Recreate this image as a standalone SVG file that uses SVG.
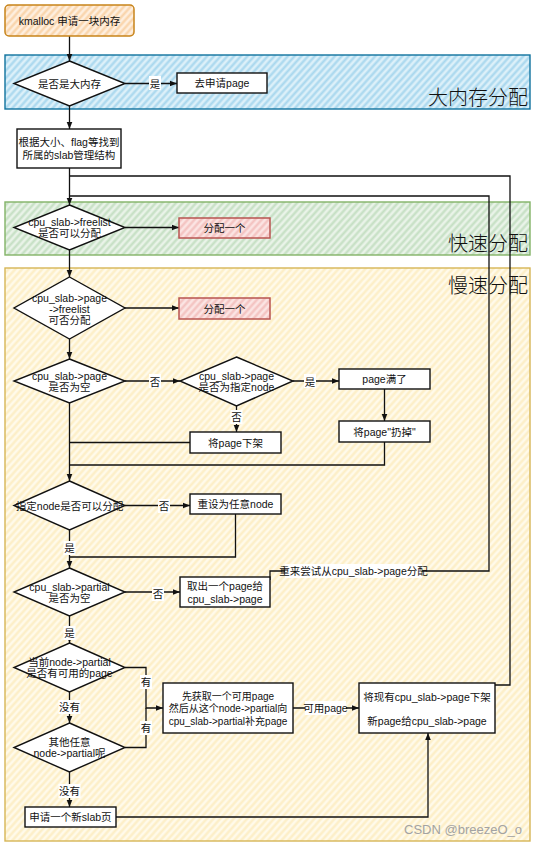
<svg xmlns="http://www.w3.org/2000/svg" width="537" height="846" viewBox="0 0 537 846">
<style>
text{font-family:"Liberation Sans","Noto Sans CJK SC",sans-serif;font-size:10.5px;fill:#111;text-anchor:middle;dominant-baseline:central}
.sm{font-size:10px}
.t{font-family:"Noto Sans CJK SC",sans-serif;font-size:20px;fill:#111;text-anchor:end;dominant-baseline:auto;font-weight:300}
.wm{font-family:"Liberation Sans",sans-serif;font-size:13px;fill:#a3a3a3;text-anchor:end;dominant-baseline:auto}
.box{fill:#fff;stroke:#111;stroke-width:1.4}
.dia{fill:#fff;stroke:#111;stroke-width:1.4}
.ln{fill:none;stroke:#111;stroke-width:1.3}
.ar{marker-end:url(#ah)}
.lb{fill:#fff}
</style>
<defs>
<marker id="ah" viewBox="0 0 10 10" refX="10" refY="5" markerWidth="7" markerHeight="7" orient="auto-start-reverse" markerUnits="userSpaceOnUse"><path d="M0,1 L10,5 L0,9 z" fill="#111"/></marker>
<pattern id="pb" width="5" height="5" patternUnits="userSpaceOnUse" patternTransform="rotate(42)"><rect width="5" height="5" fill="#dcf0f9"/><line x1="1.5" y1="0" x2="1.5" y2="5" stroke="#a8d7ee" stroke-width="2.2"/></pattern>
<pattern id="pg" width="5" height="5" patternUnits="userSpaceOnUse" patternTransform="rotate(42)"><rect width="5" height="5" fill="#e9f3e8"/><line x1="1.5" y1="0" x2="1.5" y2="5" stroke="#c5dfc3" stroke-width="2.2"/></pattern>
<pattern id="py" width="5" height="5" patternUnits="userSpaceOnUse" patternTransform="rotate(42)"><rect width="5" height="5" fill="#fffaea"/><line x1="1.5" y1="0" x2="1.5" y2="5" stroke="#fdeec4" stroke-width="2.2"/></pattern>
<pattern id="po" width="5" height="5" patternUnits="userSpaceOnUse" patternTransform="rotate(42)"><rect width="5" height="5" fill="#feefdf"/><line x1="1.5" y1="0" x2="1.5" y2="5" stroke="#f9d3a8" stroke-width="2.2"/></pattern>
<pattern id="pr" width="5" height="5" patternUnits="userSpaceOnUse" patternTransform="rotate(42)"><rect width="5" height="5" fill="#fbe4e3"/><line x1="1.5" y1="0" x2="1.5" y2="5" stroke="#f3c1bf" stroke-width="2.2"/></pattern>
</defs>

<g id="lanes">
<g id="lane-big"><rect x="5" y="55" width="525" height="54" fill="url(#pb)" stroke="#10739e" stroke-width="1.4"/><text class="t" x="528" y="105">大内存分配</text></g>
<g id="lane-fast"><rect x="5" y="202" width="525" height="53" fill="url(#pg)" stroke="#82b366" stroke-width="1.4"/><text class="t" x="528" y="251">快速分配</text></g>
<g id="lane-slow"><rect x="5" y="268" width="525" height="573" fill="url(#py)" stroke="#d6b656" stroke-width="1.4"/><text class="t" x="528" y="293">慢速分配</text></g>
</g>

<g id="connectors">
<path class="ln ar" d="M69.5,36 V61"/>
<path class="ln ar" d="M125,83.5 H177"/>
<path class="ln ar" d="M69.5,106 V129"/>
<path class="ln ar" d="M69.5,168 V205"/>
<path class="ln ar" d="M125,227.5 H179"/>
<path class="ln ar" d="M69.5,250 V277"/>
<path class="ln ar" d="M125,308 H179"/>
<path class="ln ar" d="M69.5,339 V359"/>
<path class="ln ar" d="M125,381 H180"/>
<path class="ln ar" d="M293,381 H339"/>
<path class="ln ar" d="M236.5,406 V432"/>
<path class="ln ar" d="M384.5,389 V421"/>
<path class="ln" d="M190,442.5 H69.5"/>
<path class="ln" d="M384.5,442 V465 H69.5"/>
<path class="ln ar" d="M69.5,403 V481"/>
<path class="ln ar" d="M125,505.5 H190"/>
<path class="ln" d="M235.5,514 V557 H69.5"/>
<path class="ln ar" d="M69.5,530 V568"/>
<path class="ln ar" d="M125,592 H180"/>
<path class="ln" d="M270,580 V571 H489 V196 H69.5"/>
<path class="ln ar" d="M69.5,616 V643"/>
<path class="ln ar" d="M125,667.5 H146 V708 H163"/>
<path class="ln ar" d="M69.5,692 V723"/>
<path class="ln" d="M125,747.5 H146 V708"/>
<path class="ln ar" d="M69.5,772 V807"/>
<path class="ln ar" d="M116,817 H428 V733"/>
<path class="ln ar" d="M293,708 H359"/>
<path class="ln" d="M495,685 H510 V176 H69.5"/>
<g id="edge-labels">
<rect class="lb" x="149" y="76" width="12" height="14"/><text x="155" y="83.5">是</text>
<rect class="lb" x="149" y="374" width="12" height="14"/><text x="155" y="381.5">否</text>
<rect class="lb" x="304" y="374" width="12" height="14"/><text x="310" y="381.5">是</text>
<rect class="lb" x="230.5" y="410" width="12" height="14"/><text x="236.5" y="417">否</text>
<rect class="lb" x="158" y="499" width="12" height="14"/><text x="164" y="506">否</text>
<rect class="lb" x="63.5" y="541" width="12" height="14"/><text x="69.5" y="548">是</text>
<rect class="lb" x="152" y="587" width="12" height="14"/><text x="158" y="594">否</text>
<rect class="lb" x="285" y="564" width="137" height="14"/><text x="353.5" y="571">重来尝试从cpu_slab-&gt;page分配</text>
<rect class="lb" x="63.5" y="626" width="12" height="14"/><text x="69.5" y="633">是</text>
<rect class="lb" x="140" y="675" width="12" height="14"/><text x="146" y="682">有</text>
<rect class="lb" x="58.5" y="700" width="22" height="14"/><text x="69.5" y="707">没有</text>
<rect class="lb" x="140" y="721" width="12" height="14"/><text x="146" y="728">有</text>
<rect class="lb" x="58.5" y="784" width="22" height="14"/><text x="69.5" y="791">没有</text>
<rect class="lb" x="305" y="701" width="41" height="14"/><text x="325.5" y="708">可用page</text>
</g>
</g>

<g id="n-kmalloc"><rect x="5" y="5" width="129" height="31" rx="4" fill="url(#po)" stroke="#c7841a" stroke-width="1.5"/><text x="69.5" y="20.5">kmalloc 申请一块内存</text></g>
<g id="d-big"><polygon class="dia" points="69.5,61 125,83.5 69.5,106 14,83.5"/><text x="69.5" y="83.5">是否是大内存</text></g>
<g id="n-page"><rect class="box" x="177" y="73" width="90" height="20"/><text x="222" y="83">去申请page</text></g>
<g id="n-find"><rect class="box" x="17" y="129" width="104" height="39"/><text x="69" y="142">根据大小、flag等找到</text><text x="69" y="155">所属的slab管理结构</text></g>
<g id="d-freelist"><polygon class="dia" points="69.5,205 125,227.5 69.5,250 14,227.5"/><text x="69.5" y="222">cpu_slab-&gt;freelist</text><text x="69.5" y="233">是否可以分配</text></g>
<g id="n-alloc1"><rect x="179" y="218" width="91" height="20" fill="url(#pr)" stroke="#b85450" stroke-width="1.5"/><text x="224.5" y="228">分配一个</text></g>
<g id="d-pagefree"><polygon class="dia" points="69.5,277 125,308 69.5,339 14,308"/><text x="69.5" y="298">cpu_slab-&gt;page</text><text x="69.5" y="309">-&gt;freelist</text><text x="69.5" y="320">可否分配</text></g>
<g id="n-alloc2"><rect x="179" y="298" width="91" height="21" fill="url(#pr)" stroke="#b85450" stroke-width="1.5"/><text x="224.5" y="308.5">分配一个</text></g>
<g id="d-pageempty"><polygon class="dia" points="69.5,359 125,381 69.5,403 14,381"/><text x="69.5" y="376">cpu_slab-&gt;page</text><text x="69.5" y="387">是否为空</text></g>
<g id="d-node"><polygon class="dia" points="236.5,357 293,381 236.5,406 180,381"/><text x="236.5" y="376">cpu_slab-&gt;page</text><text x="236.5" y="387">是否为指定node</text></g>
<g id="n-full"><rect class="box" x="339" y="369" width="91" height="20"/><text x="384.5" y="379">page满了</text></g>
<g id="n-unload"><rect class="box" x="190" y="432" width="91" height="21"/><text x="235.5" y="442.5">将page下架</text></g>
<g id="n-drop"><rect class="box" x="339" y="421" width="91" height="21"/><text x="384.5" y="431.5">将page"扔掉"</text></g>
<g id="d-nodealloc"><polygon class="dia" points="69.5,481 125,505.5 69.5,530 14,505.5"/><text x="69.5" y="505.5">指定node是否可以分配</text></g>
<g id="n-reset"><rect class="box" x="190" y="494" width="91" height="20"/><text x="235.5" y="504">重设为任意node</text></g>
<g id="d-partial"><polygon class="dia" points="69.5,568 125,592 69.5,616 14,592"/><text x="69.5" y="587">cpu_slab-&gt;partial</text><text x="69.5" y="598">是否为空</text></g>
<g id="n-take"><rect class="box" x="180" y="577" width="90" height="30"/><text x="225" y="586">取出一个page给</text><text x="225" y="599">cpu_slab-&gt;page</text></g>
<g id="d-curnode"><polygon class="dia" points="69.5,643 125,667.5 69.5,692 14,667.5"/><text x="69.5" y="662">当前node-&gt;partial</text><text x="69.5" y="673">是否有可用的page</text></g>
<g id="d-other"><polygon class="dia" points="69.5,723 125,747.5 69.5,772 14,747.5"/><text x="69.5" y="742">其他任意</text><text x="69.5" y="753">node-&gt;partial呢</text></g>
<g id="n-newslab"><rect class="box" x="25" y="807" width="91" height="20"/><text x="70.5" y="817">申请一个新slab页</text></g>
<g id="n-fetch"><rect class="box" x="163" y="683" width="130" height="50"/><text class="sm" x="228" y="696.5">先获取一个可用page</text><text class="sm" x="228" y="708.5">然后从这个node-&gt;partial向</text><text class="sm" x="228" y="721">cpu_slab-&gt;partial补充page</text></g>
<g id="n-replace"><rect class="box" x="359" y="683" width="136" height="50"/><text x="427" y="697">将现有cpu_slab-&gt;page下架</text><text x="427" y="721">新page给cpu_slab-&gt;page</text></g>
<text class="wm" x="522" y="834">CSDN @breezeO_o</text>
</svg>
